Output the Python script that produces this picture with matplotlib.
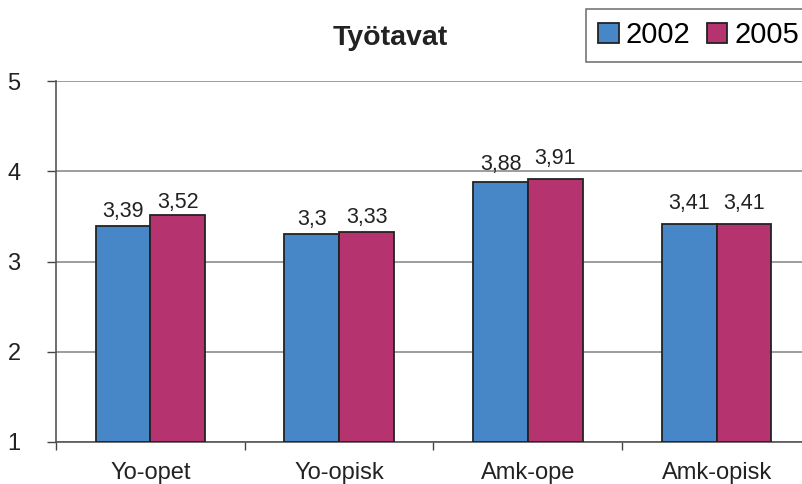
import matplotlib
matplotlib.use("Agg")
import matplotlib.pyplot as plt
import numpy as np

categories = ["Yo-opet", "Yo-opisk", "Amk-ope", "Amk-opisk"]
series_names = ["2002", "2005"]
values_2002 = [3.39, 3.30, 3.88, 3.41]
values_2005 = [3.52, 3.33, 3.91, 3.41]
labels_2002 = ["3,39", "3,3", "3,88", "3,41"]
labels_2005 = ["3,52", "3,33", "3,91", "3,41"]
yticks = [1, 2, 3, 4, 5]
title = "Työtavat"

# style: gap (points) between bar top and label baseline
gap_2002 = [6.5, 7.0, 8.5, 11.5]
gap_2005 = [5.0, 6.3, 10.8, 11.5]

plt.rcParams['font.family'] = ['Liberation Sans', 'DejaVu Sans']

fig = plt.figure(figsize=(8.03, 4.84), dpi=100)
ax = fig.add_axes([56/803, 1-442/484, 755/803, (442-81)/484])

x = np.arange(len(categories))
w = 0.29
c1, c2 = "#4787c7", "#b53470"
b1 = ax.bar(x - w/2, np.array(values_2002) - 1, w, bottom=1, color=c1, edgecolor="#222222", linewidth=1.3, zorder=3, label=series_names[0])
b2 = ax.bar(x + w/2, np.array(values_2005) - 1, w, bottom=1, color=c2, edgecolor="#222222", linewidth=1.3, zorder=3, label=series_names[1])

for xi, v, t, g in zip(x - w/2, values_2002, labels_2002, gap_2002):
    ax.annotate(t, (xi, v), xytext=(0, g), textcoords="offset points",
                ha="center", va="baseline", fontsize=15.5, color="#222222")
for xi, v, t, g in zip(x + w/2, values_2005, labels_2005, gap_2005):
    ax.annotate(t, (xi, v), xytext=(0, g), textcoords="offset points",
                ha="center", va="baseline", fontsize=15.5, color="#222222")

ax.set_xlim(-0.5, len(categories) - 0.5)
ax.set_ylim(1, 5)
ax.set_yticks(yticks)
ax.set_yticklabels([str(t) for t in yticks], fontsize=17, color="#222222")
ax.set_xticks(x)
ax.set_xticklabels(categories, fontsize=17, color="#222222")
ax.set_xticks(np.arange(-0.5, len(categories)), minor=True)
ax.tick_params(axis="x", which="major", length=0, pad=14.5)
ax.tick_params(axis="x", which="minor", length=6, width=1, color="#444444", direction="out")
ax.tick_params(axis="y", length=6.5, width=1, color="#444444", pad=19)

ax.grid(axis="y", color="#8c8c8c", linewidth=1.2, zorder=0)
for s in ["top", "right"]:
    ax.spines[s].set_visible(False)
for s in ["left", "bottom"]:
    ax.spines[s].set_color("#555555")
    ax.spines[s].set_linewidth(1.2)

fig.text(390/803, 1-38/484, title, ha="center", va="center", fontsize=20.5, fontweight="bold", color="#222222")

leg = fig.legend(handles=[b1, b2], labels=series_names, loc="upper left",
                 bbox_to_anchor=(586/803, 1-9/484), ncol=2, fontsize=21,
                 frameon=True, fancybox=False, edgecolor="#555555",
                 handlelength=0.7, handleheight=0.7, handletextpad=0.25,
                 columnspacing=0.55, borderpad=0.42, borderaxespad=0)
leg.get_frame().set_linewidth(1.2)

fig.savefig("out.png", dpi=100)
